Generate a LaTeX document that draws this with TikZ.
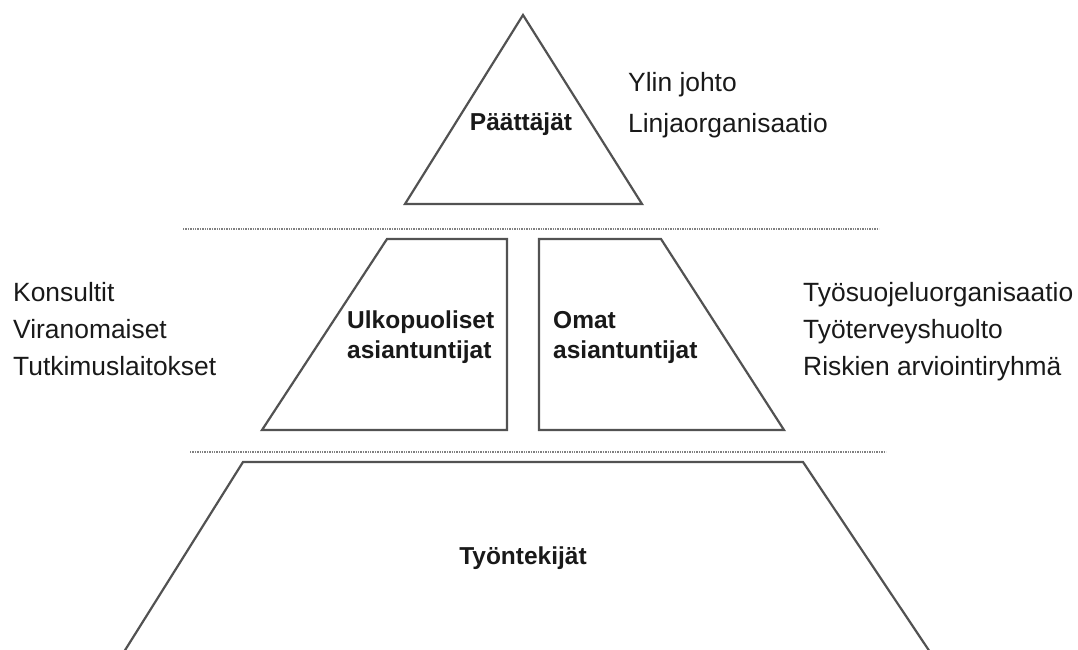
\documentclass[tikz,border=0pt]{standalone}
\usepackage{fontspec}
\setmainfont{Liberation Sans}
\begin{document}
\begin{tikzpicture}[x=1pt,y=-1pt,
  shapeline/.style={draw=black!68, line width=2.2pt, line join=miter},
  sep/.style={draw=black!50, line width=2pt, dash pattern=on 1.3pt off 1.1pt},
  lab/.style={anchor=base west, inner sep=0pt, font=\fontsize{26.4}{37}\selectfont, text=black!90},
  bl/.style={anchor=base west, inner sep=0pt, font=\fontsize{24.5}{31}\selectfont\bfseries, text=black!90},
  blc/.style={anchor=base, inner sep=0pt, font=\fontsize{24.5}{31}\selectfont\bfseries, text=black!90}]
\useasboundingbox (0,0) rectangle (1078,650);
% top triangle
\draw[shapeline] (523,15) -- (642,204) -- (405,204) -- cycle;
% separators
\coordinate (s1a) at (183,229);
\coordinate (s1b) at (879,229);
\coordinate (s2a) at (190,452);
\coordinate (s2b) at (886,452);
\draw[sep] (s1a) -- (s1b);
\draw[sep] (s2a) -- (s2b);
% middle trapezoids
\draw[shapeline] (387,239) -- (507,239) -- (507,430) -- (262,430) -- cycle;
\draw[shapeline] (539,239) -- (661,239) -- (784,430) -- (539,430) -- cycle;
% bottom trapezoid
\draw[shapeline] (122,655) -- (243,462) -- (803,462) -- (932,655);
% labels
\node[blc] (paat) at (521,131) {Päättäjät};
\node[lab] (ylin) at (628,92) {Ylin johto};
\node[lab] (linja) at (628,132) {Linjaorganisaatio};
\node[lab] (kons) at (13,301) {Konsultit};
\node[lab] (vira) at (13,338) {Viranomaiset};
\node[lab] (tutk) at (13,375) {Tutkimuslaitokset};
\node[lab] (tyos) at (803,301) {Työsuojeluorganisaatio};
\node[lab] (tyot) at (803,338) {Työterveyshuolto};
\node[lab] (risk) at (803,375) {Riskien arviointiryhmä};
\node[bl] (ulko1) at (347,328) {Ulkopuoliset};
\node[bl] (ulko2) at (347,358) {asiantuntijat};
\node[bl] (omat1) at (553,328) {Omat};
\node[bl] (omat2) at (553,358) {asiantuntijat};
\node[blc] (tyon) at (523,564) {Työntekijät};
\end{tikzpicture}
\end{document}
